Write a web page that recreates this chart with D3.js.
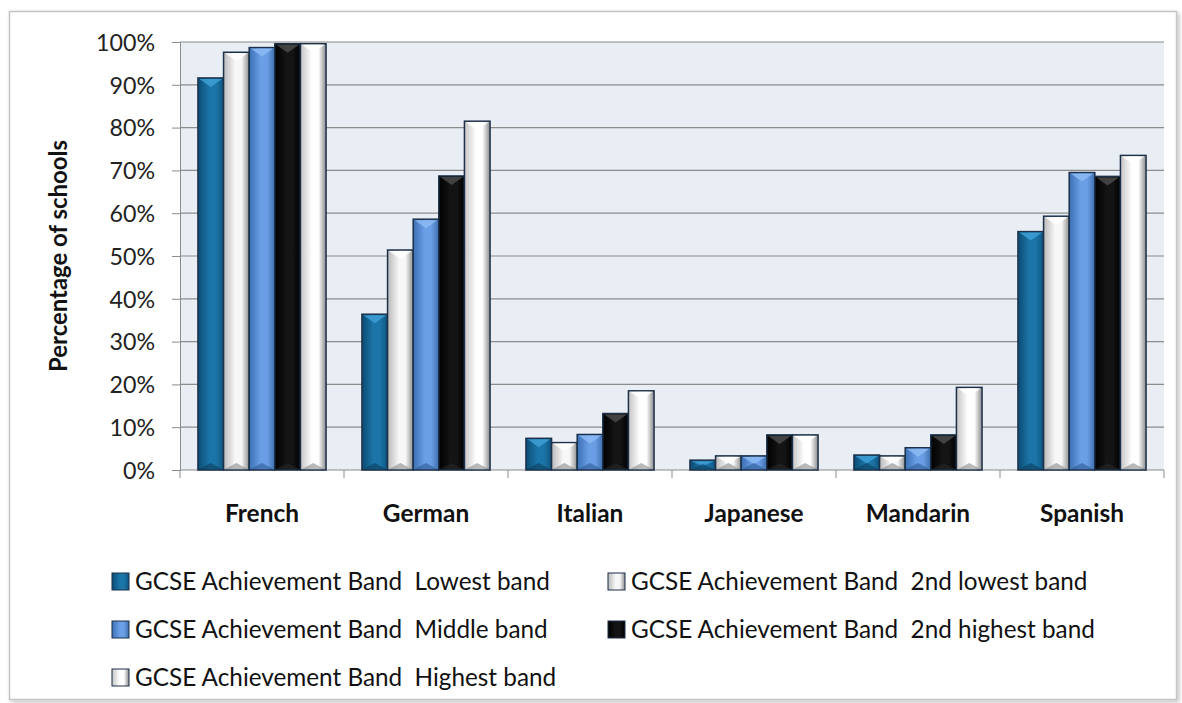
<!DOCTYPE html>
<html><head><meta charset="utf-8">
<script src="https://cdn.jsdelivr.net/npm/d3@7/dist/d3.min.js"></script>
<style>body{margin:0;background:#fff}text{white-space:pre}</style>
</head><body>
<svg id="c" width="1182" height="703"></svg>
<script>
const categories = ["French","German","Italian","Japanese","Mandarin","Spanish"];
const seriesNames = ["GCSE Achievement Band  Lowest band","GCSE Achievement Band  2nd lowest band","GCSE Achievement Band  Middle band","GCSE Achievement Band  2nd highest band","GCSE Achievement Band  Highest band"];
const lowest      = [91.6, 36.4, 7.4, 2.3, 3.5, 55.7];
const secondLow   = [97.6, 51.4, 6.4, 3.3, 3.3, 59.3];
const middle      = [98.7, 58.6, 8.3, 3.3, 5.2, 69.5];
const secondHigh  = [99.6, 68.7, 13.2, 8.2, 8.2, 68.6];
const highest     = [99.6, 81.5, 18.5, 8.2, 19.3, 73.5];
const yTicks = [0,10,20,30,40,50,60,70,80,90,100];
const seriesValues = [lowest, secondLow, middle, secondHigh, highest];

const FONT = "Lato, 'Open Sans', sans-serif";
const svg = d3.select("#c");
const defs = svg.append("defs");

const grads = [
  ["#0b4c73","#1c75a8","#0e5580"],
  ["#b9b9b9","#f7f7f7","#8f8f8f"],
  ["#3c6fb4","#6a9fe6","#3f6fae"],
  ["#000000","#141414","#000000"],
  ["#c4c4c4","#ffffff","#8a8a8a"]
];
const topCol = ["#3d9fd6","#ffffff","#8cbaf3","#4a4a4a","#ffffff"];
const botCol = ["#0a3d5e","#8a8a8a","#2f5a94","#262626","#8a8a8a"];
grads.forEach((g,i)=>{
  const lgr = defs.append("linearGradient").attr("id","g"+i).attr("x1","0").attr("x2","1").attr("y1","0").attr("y2","0");
  lgr.append("stop").attr("offset","0%").attr("stop-color",g[0]);
  lgr.append("stop").attr("offset","45%").attr("stop-color",g[1]);
  lgr.append("stop").attr("offset","70%").attr("stop-color",g[1]);
  lgr.append("stop").attr("offset","100%").attr("stop-color",g[2]);
});
const sh = defs.append("filter").attr("id","shadow").attr("x","-5%").attr("y","-5%").attr("width","110%").attr("height","110%");
sh.append("feDropShadow").attr("dx",2).attr("dy",2).attr("stdDeviation",2).attr("flood-color","#000").attr("flood-opacity",0.25);

svg.append("rect").attr("x",9.5).attr("y",11.5).attr("width",1167).attr("height",688)
  .attr("fill","#fff").attr("stroke","#c4c4c4").attr("stroke-width",1.5).attr("filter","url(#shadow)");

function fit(sample, weight, target){
  const t = svg.append("text").attr("font-family",FONT).attr("font-weight",weight).attr("font-size",100).text(sample);
  const w = t.node().getComputedTextLength(); t.remove();
  return 100*target/w;
}
const tickSize = fit("100%", "normal", 59);
const catSize = fit("French", "bold", 74);
const legSize = fit(seriesNames[0], "normal", 415);
const titleSize = fit("Percentage of schools", "bold", 232);

const pLeft=180, pRight=1164, pTop=42, pBottom=470;
const x0 = d3.scaleBand().domain(categories).range([pLeft,pRight]).paddingInner(0).paddingOuter(0);
const x1 = d3.scaleBand().domain(d3.range(5)).range([0,x0.bandwidth()]).paddingInner(0).paddingOuter(0.7);
const y = d3.scaleLinear().domain([0,100]).range([pBottom,pTop]);

svg.append("rect").attr("x",pLeft).attr("y",pTop).attr("width",pRight-pLeft).attr("height",pBottom-pTop).attr("fill","#e9eef5");

const yAxis = d3.axisLeft(y).tickValues(yTicks).tickFormat(d=>d+"%").tickSize(8).tickPadding(17);
const ya = svg.append("g").attr("transform",`translate(${pLeft},0)`).call(yAxis);
ya.select(".domain").attr("stroke","#8c8c8c");
ya.selectAll(".tick line").attr("stroke","#8c8c8c");
ya.selectAll(".tick text").attr("font-family",FONT).attr("font-size",tickSize).attr("fill","#222").attr("dy","0.36em");
svg.append("g").selectAll("line").data(yTicks.slice(1)).join("line")
  .attr("x1",pLeft).attr("x2",pRight).attr("y1",d=>y(d)).attr("y2",d=>y(d)).attr("stroke","#8c8c8c").attr("stroke-width",1.2);

svg.append("line").attr("x1",pLeft).attr("x2",pRight).attr("y1",pBottom).attr("y2",pBottom).attr("stroke","#8c8c8c").attr("stroke-width",1.2);
const bounds = categories.map(c=>x0(c)).concat([pRight]);
svg.append("g").selectAll("line").data(bounds).join("line")
  .attr("x1",d=>d).attr("x2",d=>d).attr("y1",pBottom).attr("y2",pBottom+8).attr("stroke","#8c8c8c");
svg.append("g").selectAll("text").data(categories).join("text")
  .attr("x",d=>x0(d)+x0.bandwidth()/2).attr("y",522).attr("text-anchor","middle")
  .attr("font-family",FONT).attr("font-weight","bold").attr("font-size",catSize).attr("fill","#111").text(d=>d);

svg.append("text").attr("transform",`translate(67,256) rotate(-90)`).attr("text-anchor","middle")
  .attr("font-family",FONT).attr("font-weight","bold").attr("font-size",titleSize).attr("fill","#111").text("Percentage of schools");

const groups = svg.append("g").selectAll("g").data(categories).join("g")
  .attr("transform",d=>`translate(${x0(d)},0)`);
const bars = groups.selectAll("g").data((c,ci)=>seriesValues.map((s,si)=>({si, v:s[ci]}))).join("g");
bars.append("rect")
  .attr("x",d=>x1(d.si)).attr("y",d=>y(d.v)).attr("width",x1.bandwidth()).attr("height",d=>pBottom-y(d.v))
  .attr("fill",d=>`url(#g${d.si})`).attr("stroke","#1c3149").attr("stroke-width",1.5);
bars.append("path").attr("d",d=>{
  const xa=x1(d.si)+1.5, xb=x1(d.si)+x1.bandwidth()-1.5, yt=y(d.v)+1, h=Math.min(8,(pBottom-y(d.v))/2);
  return `M${xa},${yt}L${xb},${yt}L${(xa+xb)/2},${yt+h}Z`;
}).attr("fill",d=>topCol[d.si]).attr("opacity",0.85);
bars.append("path").attr("d",d=>{
  const xa=x1(d.si)+1.5, xb=x1(d.si)+x1.bandwidth()-1.5, yb=pBottom-1, h=Math.min(6,(pBottom-y(d.v))/2);
  return `M${xa},${yb}L${xb},${yb}L${(xa+xb)/2},${yb-h}Z`;
}).attr("fill",d=>botCol[d.si]).attr("opacity",0.6);

const legPos = [[112,590],[608,590],[112,638],[608,638],[112,686]];
const lg = svg.append("g").selectAll("g").data(seriesNames).join("g")
  .attr("transform",(d,i)=>`translate(${legPos[i][0]},${legPos[i][1]})`);
lg.append("rect").attr("x",0).attr("y",-17).attr("width",17).attr("height",17)
  .attr("fill",(d,i)=>`url(#g${i})`).attr("stroke","#1c3149").attr("stroke-width",1);
lg.append("text").attr("x",23).attr("y",0).attr("font-family",FONT).attr("font-size",legSize).attr("fill","#111").text(d=>d);
</script>
</body></html>
